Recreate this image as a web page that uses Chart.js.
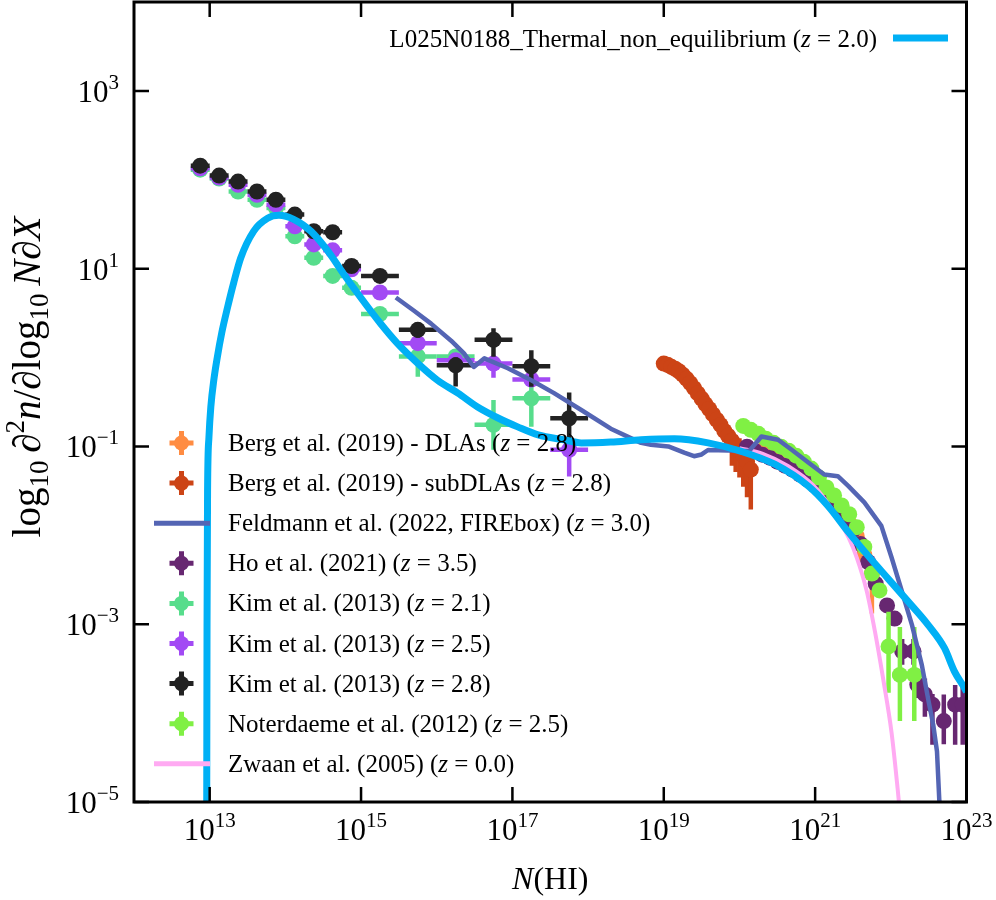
<!DOCTYPE html>
<html>
<head>
<meta charset="utf-8">
<title>HI column density distribution</title>
<script src="https://cdn.jsdelivr.net/npm/chart.js@4.4.1/dist/chart.umd.min.js"></script>
<style>
  html, body { margin: 0; padding: 0; background: #fff; }
  #wrap { width: 996px; height: 900px; position: relative; }
</style>
</head>
<body>
<div id="wrap"><canvas id="cddf"></canvas></div>
<script>
// All values are log10 N(HI) and log10 f.

// ---- Axis ticks (exponents) ----
const xTickExp = [13, 15, 17, 19, 21, 23];
const yTickExp = [-5, -3, -1, 1, 3];

// ---- L025N0188_Thermal_non_equilibrium (z=2.0) ----
const thermalLogN = [12.96, 12.965, 12.972, 12.99, 13.015, 13.055, 13.10, 13.16, 13.235, 13.32, 13.41, 13.58, 13.765, 13.915,
  14.11, 14.34, 14.56, 14.77, 15.00, 15.26, 15.48, 15.75, 16.01, 16.28, 16.54, 16.81, 17.07, 17.34, 17.68, 17.91,
  18.30, 18.70, 19.14, 19.585, 20.025, 20.465, 20.91, 21.17, 21.44, 21.70, 21.966, 22.23, 22.495, 22.71, 22.84, 22.975, 23.0];
const thermalLogF = [-5.5, -3.0, -1.5, -0.9, -0.556, -0.25, 0.0, 0.28, 0.56, 0.85, 1.12, 1.42, 1.567, 1.60,
  1.555, 1.42, 1.20, 0.94, 0.67, 0.38, 0.16, -0.065, -0.255, -0.40, -0.556, -0.68, -0.78, -0.87, -0.925, -0.96,
  -0.95, -0.925, -0.914, -0.96, -1.056, -1.20, -1.447, -1.67, -1.964, -2.23, -2.49, -2.746, -3.01, -3.27, -3.53, -3.72, -3.76];

// ---- Feldmann et al. (2022, FIREbox) ----
const feldLogN = [15.46, 15.70, 15.925, 16.19, 16.36, 16.49, 16.63, 16.94, 17.25, 17.55, 17.91, 18.30, 18.70, 18.83,
  19.06, 19.27, 19.40, 19.50, 19.585, 19.85, 20.13, 20.29, 20.51, 20.69, 20.91, 21.12, 21.30, 21.44, 21.65,
  21.875, 22.01, 22.15, 22.28, 22.41, 22.50, 22.56, 22.61, 22.64, 22.67];
const feldLogF = [0.676, 0.527, 0.382, 0.19, 0.047, -0.106, -0.009, -0.12, -0.255, -0.40, -0.59, -0.80, -0.96, -0.98,
  -1.0, -1.07, -1.11, -1.09, -1.04, -1.045, -1.05, -0.888, -0.925, -1.037, -1.18, -1.316, -1.335, -1.447, -1.63,
  -1.894, -2.25, -2.64, -3.01, -3.46, -3.87, -4.13, -4.43, -4.97, -5.3];

// ---- Zwaan et al. (2005) fit ----
const zwaanLogN = [20.0, 20.3, 20.64, 20.99, 21.215, 21.44, 21.55, 21.68, 21.79, 21.90, 22.01, 22.09, 22.14];
const zwaanLogF = [-1.02, -1.08, -1.22, -1.45, -1.70, -2.02, -2.25, -2.62, -3.08, -3.62, -4.22, -4.85, -5.3];

// ---- Berg et al. (2019) DLAs ----
const dlaLogN = [20.35, 20.45, 20.55, 20.65, 20.75, 20.85, 20.95, 21.05, 21.15, 21.25, 21.35, 21.45, 21.55, 21.65, 21.75];
const dlaLogF = [-1.003, -1.048, -1.093, -1.149, -1.205, -1.272, -1.35, -1.44, -1.529, -1.63, -1.742, -1.864, -2.009, -2.22, -2.43];
const dlaErrLo = [0.03, 0.03, 0.03, 0.03, 0.03, 0.03, 0.03, 0.03, 0.03, 0.03, 0.04, 0.04, 0.05, 0.08, 0.45];
const dlaErrHi = [0.03, 0.03, 0.03, 0.03, 0.03, 0.03, 0.03, 0.03, 0.03, 0.03, 0.04, 0.04, 0.05, 0.07, 0.15];
const dlaHalfBin = [0.05, 0.05, 0.05, 0.05, 0.05, 0.05, 0.05, 0.05, 0.05, 0.05, 0.05, 0.05, 0.05, 0.05, 0.05];

// ---- Berg et al. (2019) subDLAs ----
const subLogN = [19.00, 19.05, 19.10, 19.15, 19.20, 19.25, 19.30, 19.35, 19.40, 19.45, 19.50, 19.55,
  19.60, 19.65, 19.70, 19.75, 19.80, 19.85, 19.90, 19.95, 20.00, 20.05, 20.10, 20.15];
const subLogF = [-0.068, -0.081, -0.104, -0.126, -0.154, -0.193, -0.238, -0.288, -0.344, -0.403, -0.461, -0.523,
  -0.579, -0.64, -0.70, -0.758, -0.825, -0.88, -0.936, -0.998, -1.048, -1.104, -1.171, -1.26];
const subErrLo = [0.02, 0.02, 0.02, 0.02, 0.03, 0.03, 0.03, 0.04, 0.04, 0.05, 0.05, 0.06,
  0.07, 0.08, 0.09, 0.10, 0.12, 0.16, 0.28, 0.29, 0.30, 0.35, 0.40, 0.45];
const subErrHi = [0.02, 0.02, 0.02, 0.02, 0.02, 0.03, 0.03, 0.03, 0.04, 0.04, 0.04, 0.05,
  0.05, 0.06, 0.07, 0.07, 0.08, 0.09, 0.10, 0.12, 0.14, 0.16, 0.18, 0.20];
const subHalfBin = [0.025, 0.025, 0.025, 0.025, 0.025, 0.025, 0.025, 0.025, 0.025, 0.025, 0.025, 0.025,
  0.025, 0.025, 0.025, 0.025, 0.025, 0.025, 0.025, 0.025, 0.025, 0.025, 0.025, 0.025];

// ---- Ho et al. (2021) ----
const hoLogN = [20.1, 20.2, 20.3, 20.4, 20.5, 20.6, 20.7, 20.8, 20.9, 21.0, 21.1, 21.2, 21.3, 21.4,
  21.5, 21.6, 21.7, 21.8, 21.95, 22.05, 22.15, 22.3, 22.35, 22.45, 22.55, 22.7, 22.85, 22.95];
const hoLogF = [-1.003, -1.048, -1.093, -1.126, -1.171, -1.216, -1.26, -1.316, -1.372, -1.44, -1.506, -1.596, -1.696, -1.808,
  -1.942, -2.098, -2.30, -2.545, -2.788, -2.936, -3.305, -3.305, -3.68, -3.79, -3.905, -4.09, -3.905, -3.905];
const hoErrLo = [0.03, 0.03, 0.03, 0.03, 0.03, 0.03, 0.03, 0.03, 0.03, 0.03, 0.03, 0.03, 0.03, 0.03,
  0.03, 0.03, 0.04, 0.04, 0.05, 0.06, 0.15, 0.15, 0.15, 0.25, 0.45, 0.26, 0.45, 0.45];
const hoErrHi = [0.03, 0.03, 0.03, 0.03, 0.03, 0.03, 0.03, 0.03, 0.03, 0.03, 0.03, 0.03, 0.03, 0.03,
  0.03, 0.03, 0.04, 0.04, 0.05, 0.06, 0.14, 0.14, 0.18, 0.18, 0.12, 0.30, 0.22, 0.22];
const hoHalfBin = [0.05, 0.05, 0.05, 0.05, 0.05, 0.05, 0.05, 0.05, 0.05, 0.05, 0.05, 0.05, 0.05, 0.05,
  0.05, 0.05, 0.05, 0.05, 0.05, 0.05, 0.05, 0.05, 0.05, 0.05, 0.05, 0.05, 0.05, 0.05];

// ---- Kim et al. (2013) ----
const kimLogN = [12.875, 13.125, 13.375, 13.625, 13.875, 14.125, 14.375, 14.625, 14.875, 15.25, 15.75, 16.25, 16.75, 17.25, 17.75];
const kimHalfBin = [0.125, 0.125, 0.125, 0.125, 0.125, 0.125, 0.125, 0.125, 0.125, 0.25, 0.25, 0.25, 0.25, 0.25, 0.25];

const kim21LogN = [12.875, 13.125, 13.375, 13.625, 13.875, 14.125, 14.375, 14.625, 14.875, 15.25, 15.75, 16.25, 16.75, 17.25];
const kim21LogF = [2.114, 2.013, 1.868, 1.775, 1.682, 1.365, 1.123, 0.918, 0.784, 0.49, 0.013, 0.013, -0.757, -0.459];
const kim21ErrLo = [0.02, 0.02, 0.02, 0.02, 0.02, 0.03, 0.03, 0.04, 0.05, 0.05, 0.23, 0.10, 0.28, 0.32];
const kim21ErrHi = [0.02, 0.02, 0.02, 0.02, 0.02, 0.03, 0.03, 0.04, 0.05, 0.05, 0.067, 0.08, 0.28, 0.17];

const kim25LogF = [2.13, 2.025, 1.943, 1.831, 1.72, 1.477, 1.273, 1.206, 0.993, 0.732, 0.162, -0.031, -0.068, -0.247, -1.037];
const kim25ErrLo = [0.02, 0.02, 0.02, 0.02, 0.02, 0.03, 0.03, 0.04, 0.05, 0.05, 0.06, 0.08, 0.16, 0.08, 0.30];
const kim25ErrHi = [0.02, 0.02, 0.02, 0.02, 0.02, 0.03, 0.03, 0.04, 0.05, 0.05, 0.06, 0.07, 0.09, 0.08, 0.11];

const kim28LogF = [2.159, 2.047, 1.98, 1.868, 1.775, 1.608, 1.421, 1.41, 1.03, 0.918, 0.312, -0.087, 0.20, -0.098, -0.683];
const kim28ErrLo = [0.02, 0.02, 0.02, 0.02, 0.02, 0.03, 0.04, 0.04, 0.06, 0.06, 0.09, 0.24, 0.19, 0.23, 0.28];
const kim28ErrHi = [0.02, 0.02, 0.02, 0.02, 0.02, 0.03, 0.04, 0.04, 0.05, 0.05, 0.085, 0.09, 0.13, 0.18, 0.29];

// ---- Noterdaeme et al. (2012) ----
const notLogN = [20.05, 20.15, 20.25, 20.35, 20.45, 20.55, 20.65, 20.75, 20.85, 20.95, 21.05,
  21.15, 21.25, 21.35, 21.45, 21.55, 21.65, 21.75, 21.85, 21.97, 22.12, 22.31];
const notLogF = [-0.769, -0.813, -0.858, -0.914, -0.959, -1.003, -1.048, -1.104, -1.171, -1.249, -1.35,
  -1.461, -1.551, -1.663, -1.763, -1.908, -2.13, -2.43, -2.62, -3.25, -3.57, -3.57];
const notErrLo = [0.03, 0.03, 0.03, 0.03, 0.03, 0.03, 0.03, 0.03, 0.03, 0.03, 0.03,
  0.03, 0.03, 0.03, 0.03, 0.04, 0.04, 0.05, 0.06, 0.52, 0.52, 0.52];
const notErrHi = [0.03, 0.03, 0.03, 0.03, 0.03, 0.03, 0.03, 0.03, 0.03, 0.03, 0.03,
  0.03, 0.03, 0.03, 0.03, 0.04, 0.04, 0.05, 0.06, 0.39, 0.54, 0.54];
const notHalfBin = [0.05, 0.05, 0.05, 0.05, 0.05, 0.05, 0.05, 0.05, 0.05, 0.05, 0.05,
  0.05, 0.05, 0.05, 0.05, 0.05, 0.05, 0.05, 0.05, 0.05, 0.1, 0.1];

// ---- Styling ----
const SERIF = '"Liberation Serif", "Times New Roman", "DejaVu Serif", serif';
const COLORS = {
  dla: '#ff8c42', sub: '#cc4416', feld: '#5465b4', ho: '#672771',
  kim21: '#57dd8c', kim25: '#a24af4', kim28: '#222222', not: '#80f044',
  zwaan: '#ffaaf2', thermal: '#00b0f5'
};

function pts(xs, ys) { return xs.map((v, i) => ({ x: v, y: ys[i] })); }

function pointSet(label, color, xs, ys, lo, hi, half, order) {
  return {
    label, data: pts(xs, ys), order,
    pointRadius: 8, pointHoverRadius: 8, pointBorderWidth: 0,
    pointBackgroundColor: color, backgroundColor: color, borderColor: color,
    showLine: false, clip: 0,
    err: { lo, hi, half }
  };
}

function lineSet(label, color, xs, ys, width, order, smooth) {
  return {
    label, data: pts(xs, ys), order,
    showLine: true, borderColor: color, backgroundColor: color, borderWidth: width,
    pointRadius: 0, pointHoverRadius: 0, clip: 0,
    cubicInterpolationMode: smooth ? 'monotone' : 'default', tension: 0,
    borderCapStyle: 'butt', borderJoinStyle: 'round'
  };
}

const datasets = [
  pointSet('Berg et al. (2019) - DLAs (z = 2.8)', COLORS.dla, dlaLogN, dlaLogF, dlaErrLo, dlaErrHi, dlaHalfBin, 10),
  pointSet('Berg et al. (2019) - subDLAs (z = 2.8)', COLORS.sub, subLogN, subLogF, subErrLo, subErrHi, subHalfBin, 9),
  lineSet('Feldmann et al. (2022, FIREbox) (z = 3.0)', COLORS.feld, feldLogN, feldLogF, 4.5, 2, false),
  pointSet('Ho et al. (2021) (z = 3.5)', COLORS.ho, hoLogN, hoLogF, hoErrLo, hoErrHi, hoHalfBin, 8),
  pointSet('Kim et al. (2013) (z = 2.1)', COLORS.kim21, kim21LogN, kim21LogF, kim21ErrLo, kim21ErrHi, kimHalfBin, 7),
  pointSet('Kim et al. (2013) (z = 2.5)', COLORS.kim25, kimLogN, kim25LogF, kim25ErrLo, kim25ErrHi, kimHalfBin, 6),
  pointSet('Kim et al. (2013) (z = 2.8)', COLORS.kim28, kimLogN, kim28LogF, kim28ErrLo, kim28ErrHi, kimHalfBin, 5),
  pointSet('Noterdaeme et al. (2012) (z = 2.5)', COLORS.not, notLogN, notLogF, notErrLo, notErrHi, notHalfBin, 4),
  lineSet('Zwaan et al. (2005) (z = 0.0)', COLORS.zwaan, zwaanLogN, zwaanLogF, 4, 3, true),
  lineSet('L025N0188_Thermal_non_equilibrium (z = 2.0)', COLORS.thermal, thermalLogN, thermalLogF, 7, 1, true)
];

// ---- Text helpers ----
function font(size, italic) { return (italic ? 'italic ' : '') + size + 'px ' + SERIF; }

// runs: [text, size, italic, dy]
function drawRuns(ctx, runs, x, y, align) {
  let w = 0;
  runs.forEach(r => { ctx.font = font(r[1], r[2]); w += ctx.measureText(r[0]).width; });
  let cx = align === 'center' ? x - w / 2 : (align === 'right' ? x - w : x);
  ctx.textAlign = 'left';
  ctx.textBaseline = 'alphabetic';
  runs.forEach(r => {
    ctx.font = font(r[1], r[2]);
    ctx.fillText(r[0], cx, y + (r[3] || 0));
    cx += ctx.measureText(r[0]).width;
  });
  return w;
}

function labelRuns(label, size) {
  const m = label.match(/^(.*)\(z( = [^)]*\))$/);
  if (!m) return [[label, size]];
  return [[m[1] + '(', size], ['z', size, true], [m[2], size]];
}

function powRuns(exp, size) {
  const e = exp < 0 ? '\u2212' + Math.abs(exp) : String(exp);
  return [['10', size], [e, Math.round(size * 0.68), false, -Math.round(size * 0.42)]];
}

// ---- Error bars, drawn under each dataset's markers ----
const errorBars = {
  id: 'errorBars',
  beforeDatasetDraw(chart, args) {
    const ds = chart.data.datasets[args.index];
    if (!ds.err) return;
    const { ctx, chartArea: a, scales: { x, y } } = chart;
    ctx.save();
    ctx.beginPath();
    ctx.rect(a.left, a.top, a.right - a.left, a.bottom - a.top);
    ctx.clip();
    ctx.strokeStyle = ds.borderColor;
    ctx.lineWidth = 4.5;
    ctx.lineCap = 'butt';
    ds.data.forEach((p, i) => {
      const px = x.getPixelForValue(p.x);
      const py = y.getPixelForValue(p.y);
      ctx.beginPath();
      ctx.moveTo(x.getPixelForValue(p.x - ds.err.half[i]), py);
      ctx.lineTo(x.getPixelForValue(p.x + ds.err.half[i]), py);
      ctx.moveTo(px, y.getPixelForValue(p.y - ds.err.lo[i]));
      ctx.lineTo(px, y.getPixelForValue(p.y + ds.err.hi[i]));
      ctx.stroke();
    });
    ctx.restore();
  }
};

// ---- Frame, ticks, labels and legends ----
const decorations = {
  id: 'decorations',
  afterDraw(chart) {
    const { ctx, chartArea: a, scales: { x, y } } = chart;
    ctx.save();
    ctx.strokeStyle = '#000';
    ctx.fillStyle = '#000';

    // inward ticks on all four sides
    ctx.lineWidth = 2.5;
    ctx.beginPath();
    xTickExp.forEach(v => {
      const px = x.getPixelForValue(v);
      ctx.moveTo(px, a.bottom); ctx.lineTo(px, a.bottom - 15);
      ctx.moveTo(px, a.top); ctx.lineTo(px, a.top + 15);
    });
    yTickExp.forEach(v => {
      const py = y.getPixelForValue(v);
      ctx.moveTo(a.left, py); ctx.lineTo(a.left + 15, py);
      ctx.moveTo(a.right, py); ctx.lineTo(a.right - 15, py);
    });
    ctx.stroke();

    ctx.lineWidth = 3;
    ctx.strokeRect(a.left, a.top, a.right - a.left, a.bottom - a.top);

    // tick labels
    xTickExp.forEach(v => drawRuns(ctx, powRuns(v, 31), x.getPixelForValue(v), a.bottom + 38, 'center'));
    yTickExp.forEach(v => drawRuns(ctx, powRuns(v, 31), a.left - 15, y.getPixelForValue(v) + 11, 'right'));

    // axis titles
    drawRuns(ctx, [['N', 32, true], ['(HI)', 32]], (a.left + a.right) / 2, 889, 'center');
    ctx.save();
    ctx.translate(40, 377);
    ctx.rotate(-Math.PI / 2);
    drawRuns(ctx, [
      ['log', 39], ['10', 27, false, 8], ['\u2009\u2202', 39, true], ['2', 27, false, -16], ['n', 39, true],
      ['/', 39], ['\u2202', 39, true], ['log', 39], ['10', 27, false, 8], ['\u2009N', 39, true],
      ['\u2202', 39, true], ['X', 39, true]
    ], 0, 0, 'center');
    ctx.restore();

    // top-right legend (text first, then swatch)
    const th = datasets[9];
    drawRuns(ctx, labelRuns(th.label, 25), 877, 47, 'right');
    ctx.strokeStyle = th.borderColor;
    ctx.lineWidth = 7;
    ctx.beginPath(); ctx.moveTo(893, 38); ctx.lineTo(948, 38); ctx.stroke();

    // lower-left legend
    for (let i = 0; i < 9; i++) {
      const ds = datasets[i];
      const cy = 443 + i * 40.1;
      const cx = 181.5;
      if (ds.err) {
        ctx.strokeStyle = ds.borderColor;
        ctx.lineWidth = 5;
        ctx.beginPath();
        ctx.moveTo(cx - 12, cy); ctx.lineTo(cx + 12, cy);
        ctx.moveTo(cx, cy - 12); ctx.lineTo(cx, cy + 12);
        ctx.stroke();
        ctx.fillStyle = ds.backgroundColor;
        ctx.beginPath(); ctx.arc(cx, cy, 7.5, 0, Math.PI * 2); ctx.fill();
      } else {
        ctx.strokeStyle = ds.borderColor;
        ctx.lineWidth = 5;
        ctx.beginPath(); ctx.moveTo(154, cy); ctx.lineTo(210, cy); ctx.stroke();
      }
      ctx.fillStyle = '#000';
      drawRuns(ctx, labelRuns(ds.label, 25), 228, cy + 8, 'left');
    }
    ctx.restore();
  }
};

new Chart(document.getElementById('cddf'), {
  type: 'scatter',
  data: { datasets },
  options: {
    responsive: true,
    maintainAspectRatio: false,
    animation: false,
    events: [],
    layout: { autoPadding: false, padding: { top: 2, right: 29.5, left: 0, bottom: 0 } },
    scales: {
      x: {
        type: 'linear', min: 12, max: 23,
        ticks: { display: false }, grid: { display: false }, border: { display: false },
        afterFit(s) { s.height = 98; }
      },
      y: {
        type: 'linear', min: -5, max: 4,
        ticks: { display: false }, grid: { display: false }, border: { display: false },
        afterFit(s) { s.width = 134; }
      }
    },
    plugins: { legend: { display: false }, tooltip: { enabled: false } }
  },
  plugins: [errorBars, decorations]
});
</script>
</body>
</html>
